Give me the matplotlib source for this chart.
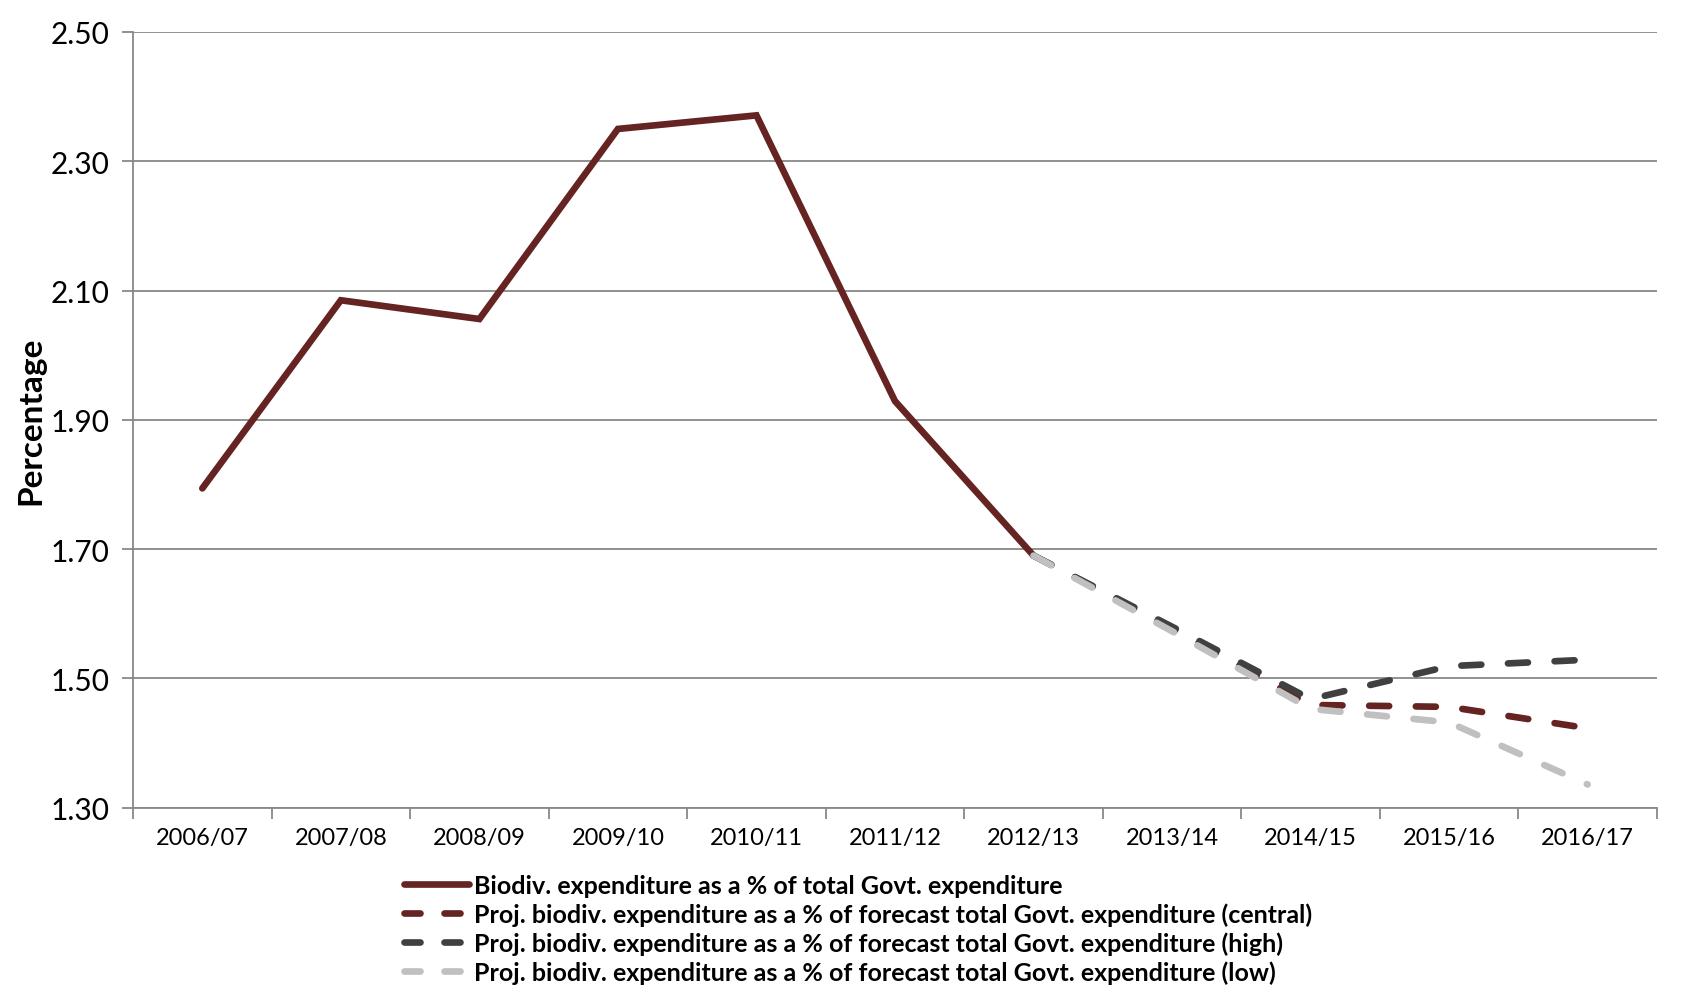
import numpy as np
import matplotlib.pyplot as plt
from matplotlib.lines import Line2D

years = ['2006/07', '2007/08', '2008/09', '2009/10', '2010/11', '2011/12',
         '2012/13', '2013/14', '2014/15', '2015/16', '2016/17']
actual = [1.794, 2.085, 2.056, 2.350, 2.371, 1.929, 1.690]
central = [1.690, 1.577, 1.459, 1.456, 1.423]
high = [1.690, 1.580, 1.468, 1.519, 1.529]
low = [1.690, 1.573, 1.453, 1.432, 1.336]

labels = ['Biodiv. expenditure as a % of total Govt. expenditure',
          'Proj. biodiv. expenditure as a % of forecast total Govt. expenditure (central)',
          'Proj. biodiv. expenditure as a % of forecast total Govt. expenditure (high)',
          'Proj. biodiv. expenditure as a % of forecast total Govt. expenditure (low)']

plt.rcParams['font.family'] = ['Lato', 'DejaVu Sans']

fig = plt.figure(figsize=(16.97, 9.87), dpi=100)
ax = fig.add_axes([0.0784, 0.1806, 0.898, 0.786])

c_act = '#652322'
c_high = '#404040'
c_low = '#C0C0C0'
lw = 4.8
dash = (3.0, 4.0)

x_act = np.arange(len(actual))
x_proj = np.arange(len(actual) - 1, len(years))

ax.plot(x_act, actual, color=c_act, lw=lw, solid_capstyle='round', solid_joinstyle='miter', zorder=3)
for vals, col in [(central, c_act), (high, c_high), (low, c_low)]:
    ax.plot(x_proj, vals, color=col, lw=lw, dashes=dash, dash_capstyle='round', zorder=3)

ax.set_xlim(-0.5, len(years) - 0.5)
ax.set_ylim(1.30, 2.50)
ax.set_yticks(np.arange(1.30, 2.51, 0.20))
ax.set_yticklabels(['%.2f' % v for v in np.arange(1.30, 2.51, 0.20)], fontsize=21.5)
ax.set_xticks(np.arange(len(years)))
ax.set_xticklabels(years, fontsize=17)
ax.set_xticks(np.arange(-0.5, len(years)), minor=True)
ax.tick_params(axis='x', which='major', length=0, pad=14)
ax.tick_params(axis='x', which='minor', length=8, color='#888888', width=1.3)
ax.tick_params(axis='y', length=8, color='#888888', width=1.3, pad=9)

ax.grid(axis='y', color='#888888', lw=1.3)
ax.set_axisbelow(True)
for s in ['top', 'right']:
    ax.spines[s].set_visible(False)
for s in ['left', 'bottom']:
    ax.spines[s].set_color('#888888')
    ax.spines[s].set_linewidth(1.3)

ax.set_ylabel('Percentage', fontsize=24, fontweight='bold', labelpad=4)

handles = [Line2D([], [], color=c_act, lw=lw, solid_capstyle='round'),
           Line2D([], [], color=c_act, lw=lw, dashes=(2.4, 3.6), dash_capstyle='round'),
           Line2D([], [], color=c_high, lw=lw, dashes=(2.4, 3.6), dash_capstyle='round'),
           Line2D([], [], color=c_low, lw=lw, dashes=(2.4, 3.6), dash_capstyle='round')]
fig.legend(handles, labels, loc='upper left', bbox_to_anchor=(0.232, 0.124),
           frameon=False, prop={'size': 18, 'weight': 'bold'},
           handlelength=2.6, handletextpad=0.2, labelspacing=0.22, borderaxespad=0)

fig.savefig('out.png', dpi=100)
